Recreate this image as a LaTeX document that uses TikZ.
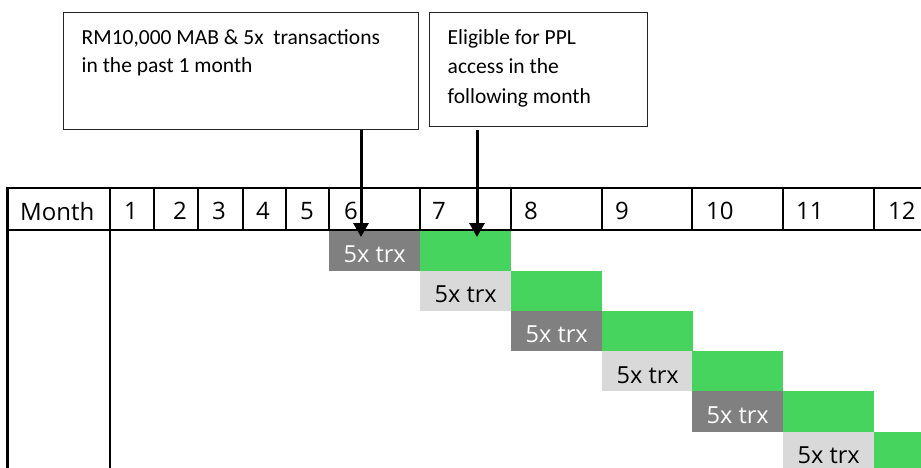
\documentclass[tikz,border=0pt]{standalone}
\usepackage{fontspec}
\setmainfont{Open Sans}
\newfontfamily\boxfont{Carlito}
\usetikzlibrary{arrows.meta}

\definecolor{cDark}{HTML}{808080}
\definecolor{cLight}{HTML}{D9D9D9}
\definecolor{cGreen}{HTML}{47D45E}

\begin{document}
\begin{tikzpicture}[x=1pt, y=-1pt, line cap=butt,
  tblline/.style={line width=2pt},
  infobox/.style={draw=black!85, line width=1pt, inner sep=0pt},
  boxtext/.style={anchor=base west, inner sep=0pt, align=left},
  headlabel/.style={anchor=west, inner sep=0pt, font=\fontsize{24}{28}\selectfont},
  trxcell/.style={anchor=north west, inner sep=0pt, minimum width=91pt, minimum height=40.3pt,
    text height=23.5pt, text depth=0pt, font=\fontsize{23.5}{28}\selectfont},
  darkcell/.style={trxcell, fill=cDark, text=white},
  lightcell/.style={trxcell, fill=cLight, text=black},
  greencell/.style={trxcell, fill=cGreen},
  pointer/.style={line width=3pt, -{Triangle[width=15pt,length=14pt]}}]

  % 钉死画布
  \useasboundingbox (0,0) rectangle (921,468);
  \clip (0,0) rectangle (921,468);

  %% ════ 说明框 ════
  %% ⚠ base west = 最后一行的基线
  \node[infobox, minimum width=355pt, minimum height=117pt] (cond) at (240.5,71.5) {};
  \node[boxtext, font=\boxfont\fontsize{21.5}{28}\selectfont] (condtxt) at (81.5,73) {RM10,000 MAB \& 5x\ \ transactions\\in the past 1 month};
  \node[infobox, minimum width=218pt, minimum height=114pt] (elig) at (538,70) {};
  \node[boxtext, font=\boxfont\fontsize{21.5}{29.5}\selectfont] (eligtxt) at (447.5,103.5) {Eligible for PPL\\access in the\\following month};

  %% ════ 色块（每行：交易月 + 下月资格）════
  \node[darkcell]  (trx1) at (329,230)   {5x trx};
  \node[greencell] (ok1)  at (420,230)   {};
  \node[lightcell] (trx2) at (420,270.3) {5x trx};
  \node[greencell] (ok2)  at (511,270.3) {};
  \node[darkcell]  (trx3) at (511,310.6) {5x trx};
  \node[greencell] (ok3)  at (602,310.6) {};
  \node[lightcell] (trx4) at (602,350.9) {5x trx};
  \node[greencell] (ok4)  at (692,350.9) {};
  \node[darkcell]  (trx5) at (692,391.2) {5x trx};
  \node[greencell] (ok5)  at (783,391.2) {};
  \node[lightcell] (trx6) at (783,431.5) {5x trx};
  \node[greencell] (ok6)  at (874,431.5) {};

  %% ════ 表格线 ════
  \draw[tblline, line width=2.5pt] (6,188) -- (921,188);
  \draw[tblline] (6,230) -- (921,230);
  \draw[line width=3pt] (7.5,186.8) -- (7.5,468);
  \draw[tblline, line width=2.5pt] (110,188) -- (110,468);
  \draw[tblline] (154,188) -- (154,230);
  \draw[tblline] (198,188) -- (198,230);
  \draw[tblline] (243,188) -- (243,230);
  \draw[tblline] (286,188) -- (286,230);
  \draw[tblline] (329,188) -- (329,230);
  \draw[tblline] (420,188) -- (420,230);
  \draw[tblline] (511,188) -- (511,230);
  \draw[tblline] (602,188) -- (602,230);
  \draw[tblline] (692,188) -- (692,230);
  \draw[tblline] (783,188) -- (783,230);
  \draw[tblline] (874,188) -- (874,230);

  %% ════ 表头 ════
  \node[headlabel] (hMonth) at (20,211) {Month};
  \node[headlabel] (h1)  at (124,211) {1};
  \node[headlabel] (h2)  at (173,211) {2};
  \node[headlabel] (h3)  at (212,211) {3};
  \node[headlabel] (h4)  at (256,211) {4};
  \node[headlabel] (h5)  at (300,211) {5};
  \node[headlabel] (h6)  at (344,211) {6};
  \node[headlabel] (h7)  at (432,211) {7};
  \node[headlabel] (h8)  at (524,211) {8};
  \node[headlabel] (h9)  at (615,211) {9};
  \node[headlabel] (h10) at (706,211) {10};
  \node[headlabel] (h11) at (796,211) {11};
  \node[headlabel] (h12) at (888,211) {12};

  %% ════ 箭头（框底 → 色块）════
  \coordinate (tipA) at (361,237);
  \coordinate (tipB) at (477,237);
  \draw[pointer] (cond.south -| tipA) -- (tipA);
  \draw[pointer] ([yshift=-3pt]elig.south -| tipB) -- (tipB);
\end{tikzpicture}
\end{document}
